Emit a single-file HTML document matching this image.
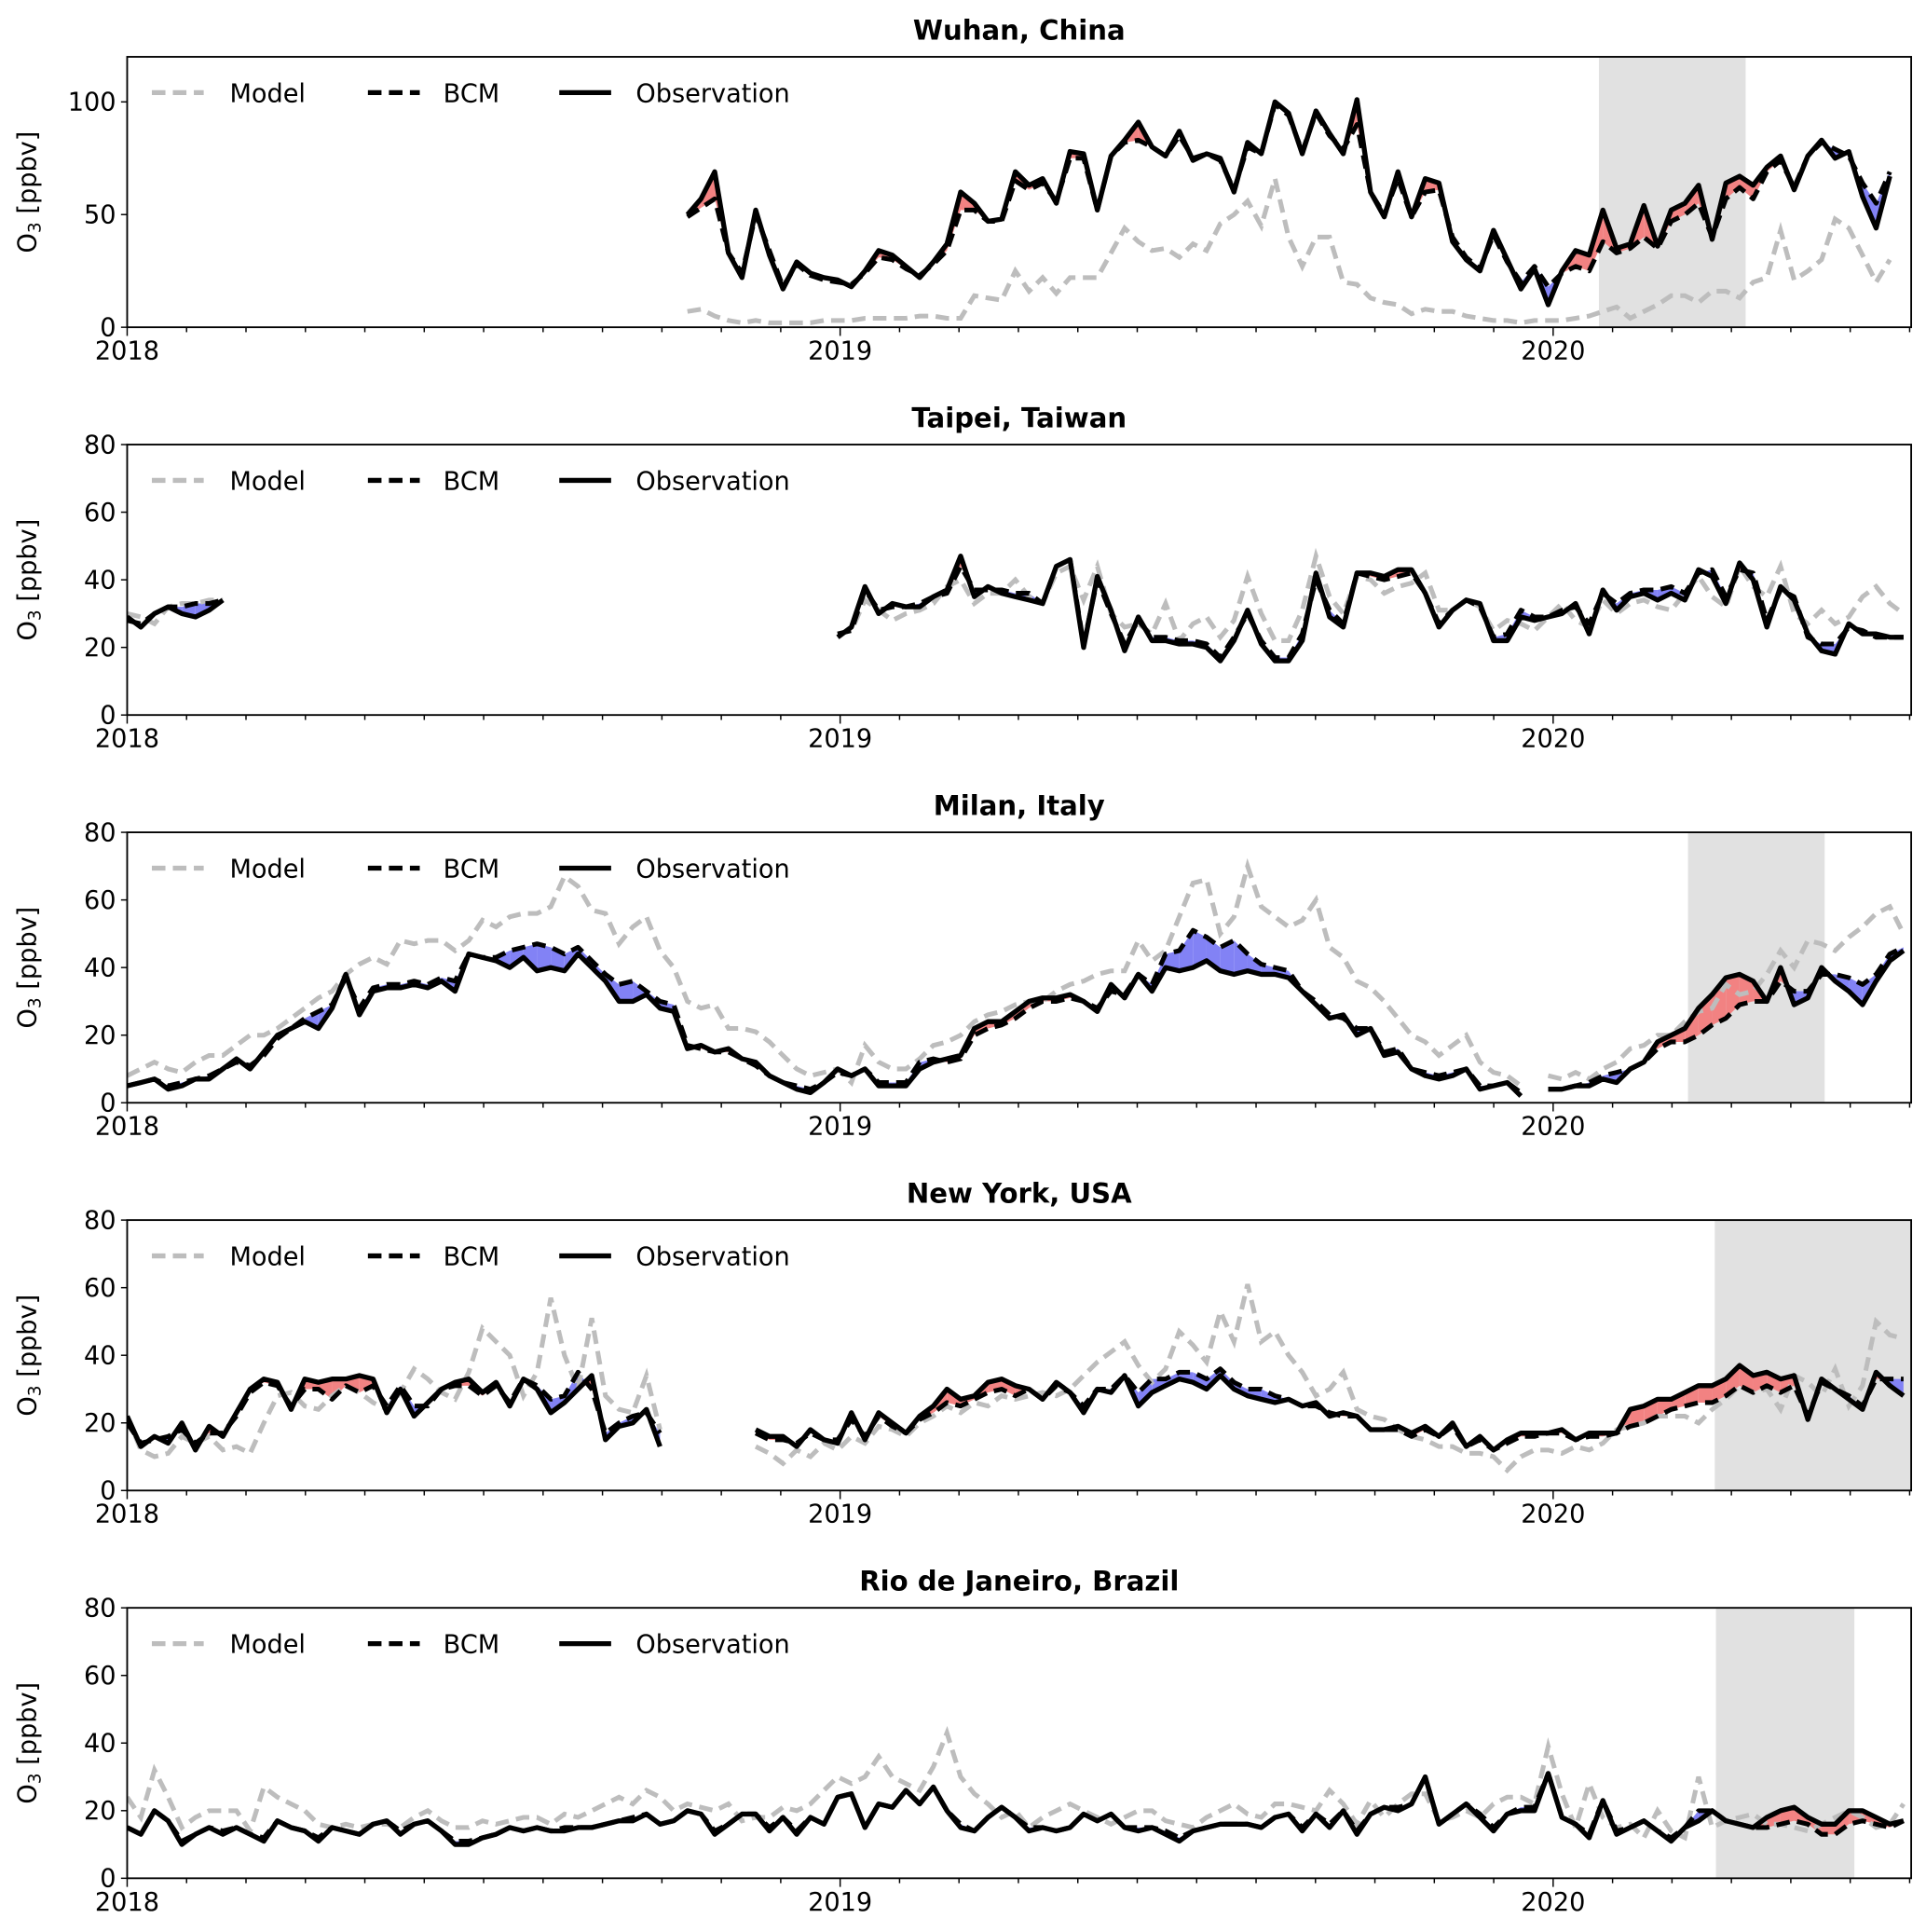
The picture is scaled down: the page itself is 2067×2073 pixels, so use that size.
<!DOCTYPE html>
<html><head><meta charset="utf-8"><style>
html,body{margin:0;padding:0;background:#fff}
svg{display:block}
text{font-family:"DejaVu Sans","Liberation Sans",sans-serif;fill:#000}
</style></head><body>
<svg id="chart" width="2067" height="2073" viewBox="0 0 1560 1564.5" xmlns="http://www.w3.org/2000/svg"></svg>
<script>
// ---- data (weekly values, week index from 2018-01-01) ----
const yearLabels = ["2018","2019","2020"];
const panelTitles = ["Wuhan, China","Taipei, Taiwan","Milan, Italy","New York, USA","Rio de Janeiro, Brazil"];
const panelYMax = [120,80,80,80,80];
const panelYTicks = [[0,50,100],[0,20,40,60,80],[0,20,40,60,80],[0,20,40,60,80],[0,20,40,60,80]];
// lockdown shading in months since Jan 2018 (null = none)
const shadeStart = [24.77,null,26.27,26.72,26.74];
const shadeEnd = [27.24,null,28.57,30.03,29.07];

const wuhanStart = 41;
const wuhanObs = [50,57,69,33,22,52,32,17,29,24, 22,21,18,25,34,32,27,22,29,37, 60,55,47,48,69,63,66,55,78,77, 52,76,83,91,80,76,87,74,77,75, 60,82,77,100,95,77,96,86,77,101, 60,49,69,49,66,64,38,30,25,43, 30,17,26,10,25,34,32,52,35,37, 54,36,52,55,63,39,64,67,63,71, 76,61,76,83,75,78,58,44,67];
const wuhanBcm = [49,53,57,33,24,50,34,18,28,23, 21,20,19,24,31,30,26,23,28,34, 52,52,47,47,65,61,64,56,75,75, 52,76,82,83,80,76,85,75,77,74, 61,80,77,99,94,78,95,85,79,90, 60,50,66,49,60,61,40,31,26,41, 29,20,27,18,24,27,25,38,33,35, 40,35,47,50,55,40,57,62,57,69, 74,62,76,82,79,76,64,55,69];
const wuhanModel = [7,8,5,3,2,3,2,2,2,2, 3,3,3,4,4,4,4,5,5,4, 4,14,13,12,25,16,22,15,22,22, 22,33,44,38,34,35,31,37,34,46, 50,56,45,66,40,27,40,40,20,19, 13,11,10,6,8,7,7,5,4,3, 3,2,3,3,3,4,5,7,9,4, 7,10,14,14,11,16,16,13,20,22, 43,21,25,30,48,44,32,20,30];

const taipeiGap = 44;
const taipeiObs1 = [29,26,30,32,30,29,31,34];
const taipeiBcm1 = [28,27,30,32,32,33,33,34];
const taipeiModel1 = [30,29,27,32,33,33,34,34];
const taipeiObs2 = [23,26,38,30,33,32,32,35,37,47, 35,38,36,35,34,33,44,46,20,41, 31,19,29,22,22,21,21,20,16,22, 31,21,16,16,22,42,29,26,42,42, 41,43,43,36,26,31,34,33,22,22, 29,28,29,30,33,24,37,31,35,36, 34,36,34,43,41,33,45,40,26,38, 34,24,19,18,27,24,24,23,23];
const taipeiBcm2 = [24,25,37,31,32,32,33,35,36,44, 37,37,37,36,36,33,44,46,21,40, 30,21,28,23,23,22,22,21,17,23, 30,22,17,17,24,40,31,27,42,41, 40,41,42,36,27,31,34,32,23,24, 31,29,29,31,32,27,36,33,36,37, 37,38,36,42,43,35,43,42,28,37, 35,23,21,21,26,25,23,23,23];
const taipeiModel2 = [24,25,34,31,28,30,31,33,38,40, 33,36,36,40,35,33,42,44,34,44, 30,26,27,24,33,22,27,29,23,28, 41,30,22,22,31,47,35,30,41,40, 36,38,39,42,31,31,34,32,25,28, 27,25,29,33,28,26,34,30,33,34, 32,31,36,41,35,32,44,38,35,44, 30,27,31,27,29,35,38,33,30];

const milanObs = [5,6,7,4,5,7,7,10,13,10, 15,20,22,24,22,28,38,26,33,34, 34,35,34,36,33,44,43,42,40,43, 39,40,39,44,40,36,30,30,32,28, 27,16,17,15,16,13,12,8,6,4, 3,6,10,8,10,5,5,5,10,12, 13,14,22,24,24,27,30,31,31,32, 30,27,35,31,38,33,40,39,40,42, 39,38,39,38,38,37,33,29,25,26, 20,22,14,15,10,8,7,8,10,4, 5,6,2,null, 4,4,5,5,7,6,10,12,18,20, 22,28,32,37,38,36,30,40,29,31, 40,36,33,29,36,42,45];
const milanBcm = [5,6,7,5,6,7,8,10,12,11, 14,19,22,25,27,29,37,28,34,35, 35,36,35,37,36,44,43,43,45,46, 47,46,44,46,42,38,35,36,33,30, 29,17,16,15,15,13,11,8,6,5, 4,6,9,8,10,6,6,6,12,13, 12,13,20,22,23,25,28,30,30,31, 30,28,33,32,38,35,44,45,51,49, 46,48,44,41,40,39,33,30,26,25, 22,22,15,16,10,9,8,9,10,5, 5,6,3,null, 4,4,5,6,8,9,10,12,16,18, 18,20,23,25,29,30,30,36,33,33, 38,38,37,35,38,44,46];
const milanModel = [8,10,12,10,9,12,14,14,17,20, 20,22,25,28,31,33,38,41,43,41, 48,47,48,48,45,48,54,52,55,56, 56,58,67,64,57,56,47,52,55,45, 40,30,28,29,22,22,21,18,14,10, 8,9,10,6,17,12,10,10,13,17, 18,20,24,26,27,29,30,30,33,35, 36,38,39,39,48,42,45,55,65,66, 50,55,70,58,55,52,54,60,46,43, 36,34,30,25,20,18,14,17,20,12, 9,8,5,null, 8,7,9,7,10,12,16,17,20,20, 24,27,28,35,32,33,38,45,40,48, 47,45,49,52,56,58,50];

const nyGap = 6;
const nyObs1 = [22,13,16,14,20,12,19,16,23,30, 33,32,24,33,32,33,33,34,33,23, 30,22,26,30,32,33,29,32,25,33, 30,23,26,30,34,15,19,20,24,13];
const nyBcm1 = [20,14,15,16,18,14,17,17,22,29, 32,31,25,30,30,27,31,29,31,25, 31,25,25,30,31,31,28,31,26,33, 31,27,28,35,30,17,20,22,23,17];
const nyModel1 = [22,12,10,11,16,14,16,12,13,11, 20,28,29,25,24,28,31,29,26,24, 29,36,33,29,27,35,48,44,40,28, 35,57,40,30,51,28,24,23,34,18];
const nyObs2 = [18,16,16,13,18,15,14,23,15,23, 20,17,22,25,30,27,28,32,33,31, 30,27,32,29,23,30,29,34,25,29, 31,33,32,30,34,30,28,27,26,27, 25,26,22,23,22,18,18,19,17,19, 16,20,13,16,12,15,17,17,17,18, 15,17,17,17,24,25,27,27,29,31, 31,33,37,34,35,33,34,21,33,30, 27,24,35,31,28];
const nyBcm2 = [17,15,15,14,17,15,15,21,16,22, 19,17,21,23,26,25,27,29,30,28, 30,27,31,29,25,30,30,34,29,33, 33,35,35,33,36,32,30,30,28,27, 25,25,23,22,22,18,18,18,16,18, 16,19,13,15,12,14,16,16,17,17, 15,16,16,17,19,20,22,24,25,26, 26,28,31,29,31,29,31,22,32,30, 28,25,33,33,33];
const nyModel2 = [13,11,8,12,10,14,12,16,14,19, 18,16,20,22,25,23,26,25,28,27, 28,29,28,30,34,38,41,44,37,32, 36,47,43,38,53,44,61,44,47,40, 35,28,30,35,24,22,21,18,16,15, 13,13,11,11,10,6,10,12,12,11, 13,12,14,18,19,20,22,22,22,20, 24,27,31,29,30,24,34,32,28,36, 25,31,50,46,45];

const rioObs = [15,13,20,17,10,13,15,13,15,13, 11,17,15,14,11,15,14,13,16,17, 13,16,17,14,10,10,12,13,15,14, 15,14,14,15,15,16,17,17,19,16, 17,20,19,13,16,19,19,14,18,13, 18,16,24,25,15,22,21,26,22,27, 20,15,14,18,21,18,14,15,14,15, 19,17,19,15,14,15,13,11,14,15, 16,16,16,15,18,19,14,19,15,20, 13,19,21,20,22,30,16,19,22,18, 14,19,20,20,31,18,16,12,23,13, 15,17,14,11,15,17,20,17,16,15, 18,20,21,18,16,16,20,20,18,16, 17];
const rioBcm = [15,13,20,17,11,13,15,14,15,13, 12,17,15,14,12,15,14,13,16,17, 14,16,17,14,11,11,12,13,15,14, 15,14,15,15,15,16,17,18,19,16, 17,20,19,14,16,19,19,15,18,14, 18,16,24,25,15,22,21,26,22,27, 20,16,14,18,21,18,15,15,14,15, 19,17,19,15,15,15,14,12,14,15, 16,16,16,15,18,19,15,19,16,20, 14,19,21,21,22,30,16,19,22,19, 15,19,21,21,31,18,16,13,23,14, 15,17,14,12,15,20,20,17,16,15, 15,16,17,16,13,13,16,17,16,15, 17];
const rioModel = [24,18,32,24,15,18,20,20,20,14, 27,24,22,20,16,15,16,15,16,16, 15,18,20,17,15,15,17,16,17,18, 18,16,19,18,20,22,24,22,26,24, 20,22,21,20,22,17,18,18,21,20, 22,26,30,28,30,36,30,28,26,33, 43,30,25,22,18,20,15,18,20,22, 20,18,16,18,20,20,17,16,15,18, 20,22,19,18,22,22,21,20,26,22, 16,23,18,22,25,25,17,18,20,18, 22,24,24,22,39,25,15,28,18,15, 16,12,20,14,12,30,15,17,18,19, 16,16,15,14,16,18,20,18,15,16, 22];

function pad(n){ return new Array(n).fill(null); }
const panels = [
  {obs: pad(wuhanStart).concat(wuhanObs), bcm: pad(wuhanStart).concat(wuhanBcm), model: pad(wuhanStart).concat(wuhanModel)},
  {obs: taipeiObs1.concat(pad(taipeiGap), taipeiObs2), bcm: taipeiBcm1.concat(pad(taipeiGap), taipeiBcm2), model: taipeiModel1.concat(pad(taipeiGap), taipeiModel2)},
  {obs: milanObs, bcm: milanBcm, model: milanModel},
  {obs: nyObs1.concat(pad(nyGap), nyObs2), bcm: nyBcm1.concat(pad(nyGap), nyBcm2), model: nyModel1.concat(pad(nyGap), nyModel2)},
  {obs: rioObs, bcm: rioBcm, model: rioModel}
];

// ---- layout ----
const NS = "http://www.w3.org/2000/svg";
const svg = document.getElementById("chart");
const L = 103, R = 1548, PH = 219;
const tops = [46,360,674,988,1302];
const perMonth = 48.125;
const FS = 20.5;
function xMonth(m){ return L + m*perMonth; }
function xWeek(i){ return xMonth(i*12/52.18); }
function el(tag, attrs, parent){ const e=document.createElementNS(NS,tag); for(const k in attrs) e.setAttribute(k,attrs[k]); (parent||svg).appendChild(e); return e; }

function polyPath(xs, ys){
  let d="", pen=false;
  for(let i=0;i<xs.length;i++){
    if(ys[i]==null){ pen=false; continue; }
    d += (pen?"L":"M")+xs[i].toFixed(1)+","+ys[i].toFixed(1);
    pen=true;
  }
  return d;
}

panels.forEach((p, k) => {
  const top = tops[k], bot = top+PH, ymax = panelYMax[k];
  const yv = v => bot - v/ymax*PH;
  const g = el("g",{});
  
  
  const clipId = "clip"+k;
  const cp = el("clipPath",{id:clipId}, g);
  el("rect",{x:L,y:top,width:R-L,height:PH}, cp);

  if(shadeStart[k]!=null){
    const s = el("rect",{x:xMonth(shadeStart[k]),y:top,width:xMonth(shadeEnd[k])-xMonth(shadeStart[k]),height:PH,fill:"#e1e1e1"}, g);
    
    
  }
  const plot = el("g",{"clip-path":"url(#"+clipId+")"}, g);
  const fills = el("g",{}, plot);
  
  
  const n = p.obs.length;
  for(let i=0;i<n-1;i++){
    const o0=p.obs[i],o1=p.obs[i+1],b0=p.bcm[i],b1=p.bcm[i+1];
    if(o0==null||o1==null||b0==null||b1==null) continue;
    const x0=xWeek(i), x1=xWeek(i+1);
    const d0=o0-b0, d1=o1-b1;
    const seg=(xa,oa,ba,xb,ob,bb,pos)=>{
      el("polygon",{points:`${xa},${yv(oa)} ${xb},${yv(ob)} ${xb},${yv(bb)} ${xa},${yv(ba)}`,fill:pos?"#f28282":"#8282f5",stroke:"none"}, fills);
    };
    if(d0*d1<0){
      const t=d0/(d0-d1), xc=x0+t*(x1-x0), vc=o0+t*(o1-o0);
      seg(x0,o0,b0,xc,vc,vc,d0>0);
      seg(xc,vc,vc,x1,o1,b1,d1>0);
    } else if(d0!==0||d1!==0){
      seg(x0,o0,b0,x1,o1,b1,(d0+d1)>0);
    }
  }
  const xs = p.obs.map((_,i)=>xWeek(i));
  const mLine = el("path",{d:polyPath(xs,p.model.map(v=>v==null?null:yv(v))),fill:"none",stroke:"#bdbdbd","stroke-width":3.8,"stroke-dasharray":"11,6"}, plot);
  
  
  const bLine = el("path",{d:polyPath(xs,p.bcm.map(v=>v==null?null:yv(v))),fill:"none",stroke:"#000","stroke-width":3.8,"stroke-dasharray":"11,6","stroke-linejoin":"round"}, plot);
  
  
  const oLine = el("path",{d:polyPath(xs,p.obs.map(v=>v==null?null:yv(v))),fill:"none",stroke:"#000","stroke-width":4,"stroke-linejoin":"round"}, plot);
  
  

  const fr = el("rect",{x:L,y:top,width:R-L,height:PH,fill:"none",stroke:"#000","stroke-width":1.4}, g);
  
  
  for(let m=0;m<=30;m++){
    const major = m%12===0;
    el("line",{x1:xMonth(m),x2:xMonth(m),y1:bot,y2:bot+(major?7:4),stroke:"#000","stroke-width":1.1}, g);
  }
  yearLabels.forEach((lab,j)=>{
    const t = el("text",{x:xMonth(j*12),y:bot+26,"font-size":FS,"text-anchor":"middle"}, g);
    t.textContent = lab;
    
    
  });
  panelYTicks[k].forEach(v=>{
    el("line",{x1:L-5,x2:L,y1:yv(v),y2:yv(v),stroke:"#000","stroke-width":1.1}, g);
    const t = el("text",{x:L-9,y:yv(v)+7,"font-size":FS,"text-anchor":"end"}, g);
    t.textContent = v;
    
    
  });
  const yl = el("text",{transform:`translate(29,${top+PH/2}) rotate(-90)`,"font-size":FS,"text-anchor":"middle"}, g);
  yl.innerHTML = 'O<tspan font-size="14" dy="4">3</tspan><tspan dy="-4"> [ppbv]</tspan>';
  
  
  const tt = el("text",{x:(L+R)/2,y:top-14,"font-size":22,"font-weight":"bold","text-anchor":"middle"}, g);
  tt.textContent = panelTitles[k];
  
  
  const lg = el("g",{}, g);
  
  
  const ly = top+29;
  const items = [["Model",123,186,"#bdbdbd",true],["BCM",298,359,"#000",true],["Observation",453,515,"#000",false]];
  items.forEach(it=>{
    const ln = el("line",{x1:it[1],x2:it[1]+42,y1:ly,y2:ly,stroke:it[3],"stroke-width":4}, lg);
    if(it[4]) ln.setAttribute("stroke-dasharray","11,6");
    const t = el("text",{x:it[2],y:ly+7.5,"font-size":FS}, lg);
    t.textContent = it[0];
    
    
  });
});
</script>
</body></html>
